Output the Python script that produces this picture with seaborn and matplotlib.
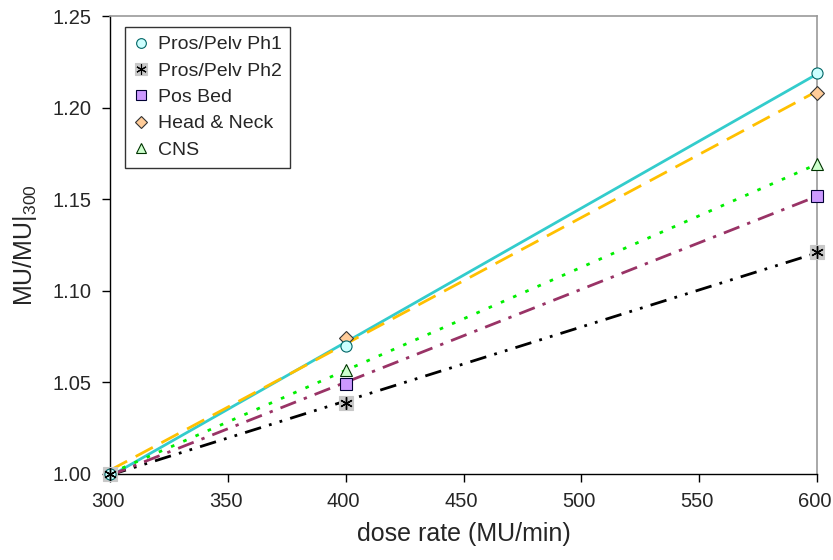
import numpy as np
import pandas as pd
import matplotlib
matplotlib.use("Agg")
import matplotlib.pyplot as plt
import matplotlib.transforms as mtransforms
import seaborn as sns
from matplotlib.lines import Line2D

dose = [300, 400, 600]
series = ["Pros/Pelv Ph1", "Pros/Pelv Ph2", "Pos Bed", "Head & Neck", "CNS"]
ph1 = [1.000, 1.070, 1.219]
ph2 = [1.000, 1.039, 1.121]
pos_bed = [1.000, 1.049, 1.152]
head_neck = [1.000, 1.074, 1.208]
cns = [1.000, 1.057, 1.169]

sns.set_style("ticks")
plt.rcParams['font.family'] = ['Liberation Sans', 'DejaVu Sans']
plt.rcParams['mathtext.default'] = 'regular'

datos = pd.DataFrame({
    'dose': dose * 5,
    'ratio': ph1 + ph2 + pos_bed + head_neck + cns,
    'serie': [s for s in series for _ in dose],
})

# estilo de linea de tendencia y marcador por serie
estilos = {
    "Pros/Pelv Ph1": dict(color='#33CCCC', ls='-', marker='o', face='#CCFFFF', edge='#006666'),
    "Pros/Pelv Ph2": dict(color='#000000', ls=(0, (6, 3, 1, 3, 1, 3)), marker='s', face='#C8C8C8', edge='#C8C8C8'),
    "Pos Bed": dict(color='#993366', ls=(0, (6, 3, 1.2, 3)), marker='s', face='#CC99FF', edge='#000033'),
    "Head & Neck": dict(color='#FFC000', ls=(0, (7, 3.5)), marker='D', face='#FFCC99', edge='#333333'),
    "CNS": dict(color='#00EE00', ls=(0, (1.3, 3.5)), marker='^', face='#CCFFCC', edge='#003300'),
}

fig = plt.figure(figsize=(8.33, 5.6), dpi=100)
ax = fig.add_axes([0.132, 0.1536, 0.849, 0.8178])

for s in series:
    e = estilos[s]
    sub = datos[datos['serie'] == s]
    sns.regplot(data=sub, x='dose', y='ratio', ax=ax, scatter=False, ci=None, truncate=True,
                line_kws=dict(color=e['color'], ls=e['ls'], lw=2))

for s in series[::-1]:
    e = estilos[s]
    sub = datos[datos['serie'] == s]
    ms = 8 if e['marker'] != 'D' else 7
    if s == "Pros/Pelv Ph2":
        ms = 10
    ax.plot(sub['dose'], sub['ratio'], ls='none', marker=e['marker'], ms=ms,
            mfc=e['face'], mec=e['edge'], mew=0.8, clip_on=False, zorder=5)
    if s == "Pros/Pelv Ph2":
        ax.plot(sub['dose'], sub['ratio'], ls='none', marker=(6, 2, 0), ms=9,
                mec='black', mew=1, clip_on=False, zorder=6)

handles = []
for s in series:
    e = estilos[s]
    ms = 7 if e['marker'] != 'D' else 6.5
    if s == "Pros/Pelv Ph2":
        ms = 8.5
    h = Line2D([], [], ls='none', marker=e['marker'], ms=ms, mfc=e['face'], mec=e['edge'], mew=0.8)
    if s == "Pros/Pelv Ph2":
        h2 = Line2D([], [], ls='none', marker=(6, 2, 0), ms=7.5, mec='black', mew=0.8)
        h = (h, h2)
    handles.append(h)

ax.set_xlim(300, 600)
ax.set_ylim(1.0, 1.25)
ax.set_xticks([300, 350, 400, 450, 500, 550, 600])
ax.set_yticks([1.00, 1.05, 1.10, 1.15, 1.20, 1.25])
ax.set_yticklabels(['%.2f' % v for v in [1.00, 1.05, 1.10, 1.15, 1.20, 1.25]])
ax.tick_params(axis='both', labelsize=14.5, length=6, width=1, color='black', pad=7)
ax.set_xlabel('dose rate (MU/min)', fontsize=18, labelpad=8)
ax.set_ylabel('MU/MU|$_{300}$', fontsize=18, labelpad=10)

# pequeño corrimiento a la izquierda de las etiquetas del eje x
desplazamiento = mtransforms.ScaledTranslation(-2 / 100, 0, fig.dpi_scale_trans)
for etiqueta in ax.get_xticklabels():
    etiqueta.set_transform(etiqueta.get_transform() + desplazamiento)

for lado in ['left', 'bottom']:
    ax.spines[lado].set_color('black')
    ax.spines[lado].set_linewidth(1)
for lado in ['top', 'right']:
    ax.spines[lado].set_color('#999999')
    ax.spines[lado].set_linewidth(1.2)

leg = ax.legend(handles, series, loc='upper left', bbox_to_anchor=(0.021, 0.976), borderaxespad=0,
                fontsize=14, frameon=True, fancybox=False, edgecolor='black', handlelength=0.8,
                handletextpad=0.45, labelspacing=0.45, borderpad=0.45)
leg.get_frame().set_linewidth(1)

fig.savefig('out.png', dpi=100)
